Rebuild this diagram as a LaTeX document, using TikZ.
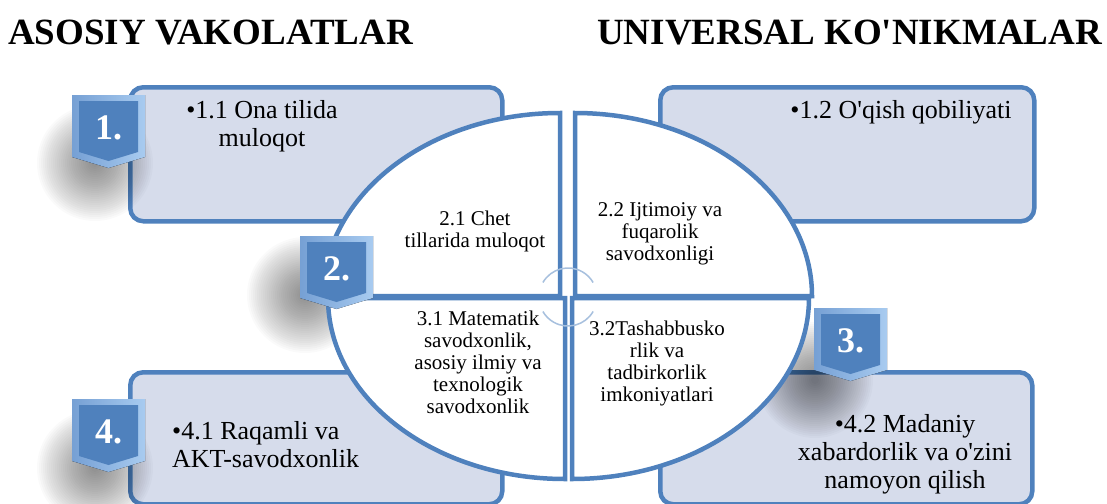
\documentclass[tikz,border=0pt]{standalone}
\usepackage{fontspec}
\setmainfont{Liberation Serif}
\newfontfamily\uzfont{Liberation Serif}
\usetikzlibrary{positioning,calc}
\definecolor{accblue}{RGB}{79,129,189}
\definecolor{accfill}{RGB}{214,220,235}
\definecolor{acclight}{RGB}{167,192,222}
\definecolor{bevelleft}{RGB}{118,160,212}
\definecolor{bevelright}{RGB}{168,203,240}
\tikzset{
	x=1pt, y=-1pt,
	skillbox/.style={
		rectangle, anchor=north west, draw=accblue, line width=4.5pt,
		rounded corners=13pt, fill=accfill, inner sep=0pt
	},
	%
	quarter/.style={
		draw=accblue, line width=4.5pt, fill=white
	},
	%
	heading/.style={
		font=\uzfont\fontsize{37}{40}\selectfont\bfseries, anchor=base west, inner sep=0pt
	},
	%
	boxtext/.style={
		font=\uzfont\fontsize{26}{28}\selectfont, align=center, inner sep=0pt
	},
	%
	pietext/.style={
		font=\uzfont\fontsize{21}{22}\selectfont, align=center, inner sep=0pt
	},
	%
	badge/.pic={
		\fill[left color=bevelleft, right color=bevelright] (0,0) -- (73,0) -- (73,62) -- (36.5,73) -- (0,62) -- cycle;
		\fill[accblue] (7,6) -- (66,6) -- (66,57) -- (36.5,66) -- (7,57) -- cycle;
		\node(-num)[text=white, font=\uzfont\fontsize{36}{36}\selectfont\bfseries] at (36.5,33) {#1};
	}
}
\begin{document}
\begin{tikzpicture}
    \useasboundingbox (0,0) rectangle (1107,503);
    \node(lefthead)[heading] at (8,45) {ASOSIY VAKOLATLAR};
    \node(righthead)[heading] at (597,45) {UNIVERSAL KO'NIKMALAR};
    % the four outer boxes
    \node(box11)[skillbox, minimum width=372pt, minimum height=134pt] at (128,85) {};
    \node(box12)[skillbox, minimum width=374pt, minimum height=134pt] at (658,85) {};
    \node(box41)[skillbox, minimum width=372pt, minimum height=132pt] at (128,370) {};
    \node(box42)[skillbox, minimum width=372pt, minimum height=132pt] at (658,370) {};
    % soft shadows of the badges
    \foreach \cx/\cy in {95/163, 305/295, 815/380, 95/468}
        \foreach \r in {58,56,...,4}
            \fill[black, opacity=0.018] (\cx,\cy) circle (\r);
    % the split circle
    \path[quarter] (560,296) -- ++(-237,0) arc[start angle=180, end angle=270, x radius=237, y radius=183] -- cycle;
    \path[quarter] (575,296) -- ++(0,-183) arc[start angle=270, end angle=360, x radius=237, y radius=183] -- cycle;
    \path[quarter] (565,298) -- ++(-237,0) arc[start angle=180, end angle=90, x radius=237, y radius=181] -- cycle;
    \path[quarter] (572,298) -- ++(237,0) arc[start angle=0, end angle=90, x radius=237, y radius=181] -- cycle;
    \draw[acclight, line width=1.5pt] (568,297) ++(210:29) arc[start angle=210, end angle=330, radius=29];
    \draw[acclight, line width=1.5pt] (568,297) ++(30:29) arc[start angle=30, end angle=150, radius=29];
    % texts
    \node(ona)[boxtext] at (262,126) {•1.1 Ona tilida\\muloqot};
    \node(oqish)[boxtext] at (901,112) {•1.2 O'qish qobiliyati};
    \node(raqamli)[boxtext, align=left, anchor=west] at (172,445) {•4.1 Raqamli va\\AKT-savodxonlik};
    \node(madaniy)[boxtext] at (905,454) {•4.2 Madaniy\\xabardorlik va o'zini\\namoyon qilish};
    \node(chet)[pietext] at (475,231) {2.1 Chet\\tillarida muloqot};
    \node(ijtimoiy)[pietext] at (660,234) {2.2 Ijtimoiy va\\fuqarolik\\savodxonligi};
    \node(matematik)[pietext] at (478,362) {3.1 Matematik\\savodxonlik,\\asosiy ilmiy va\\texnologik\\savodxonlik};
    \node(tashabbus)[pietext] at (657,363) {3.2Tashabbusko\\rlik va\\tadbirkorlik\\imkoniyatlari};
    % numbered badges
    \pic (b1) at (72,95) {badge=1.};
    \pic (b2) at (300,236) {badge=2.};
    \pic (b3) at (814,308) {badge=3.};
    \pic (b4) at (72,399) {badge=4.};
\end{tikzpicture}
\end{document}
